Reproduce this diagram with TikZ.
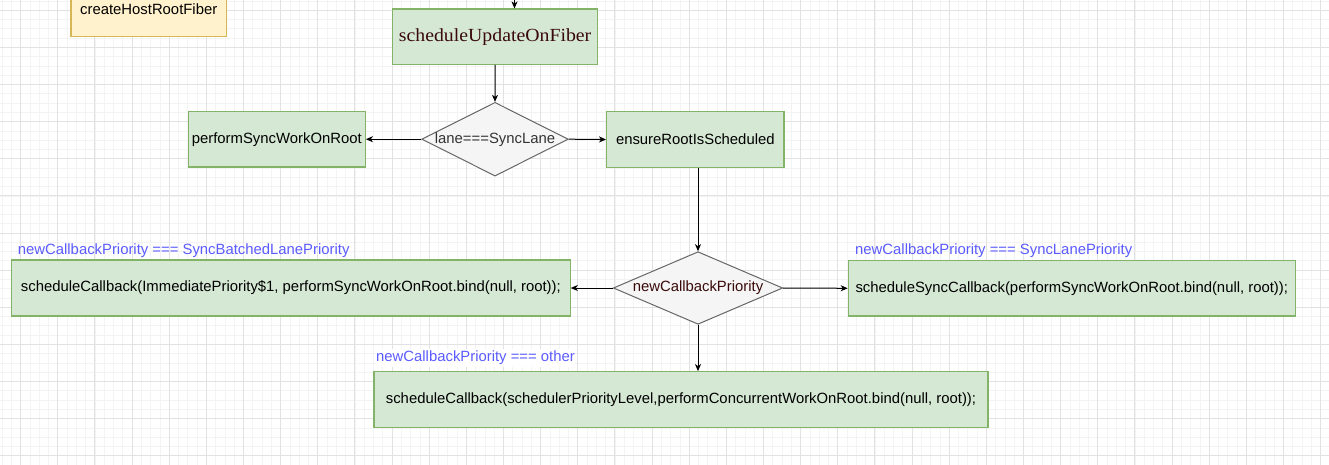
\documentclass[tikz,border=0pt]{standalone}
\usepackage{graphicx}
\usepackage{fontspec}
\setmainfont{Liberation Sans}
\newfontfamily\serifface{Liberation Serif}
\usetikzlibrary{arrows.meta,shapes.geometric}
\definecolor{gfill}{HTML}{D5E8D4}
\definecolor{gline}{HTML}{82B366}
\definecolor{yfill}{HTML}{FFF2CC}
\definecolor{yline}{HTML}{D6B656}
\definecolor{dfill}{HTML}{F5F5F5}
\definecolor{dline}{HTML}{666666}
\definecolor{maroon}{HTML}{3A0A0A}
\definecolor{dgray}{HTML}{333333}
\definecolor{lblue}{HTML}{5B5BFF}
\definecolor{gridminor}{HTML}{F3F3F3}
\definecolor{gridmajor}{HTML}{E2E2E2}
\newcommand\dfont{\fontsize{14.86pt}{17pt}\selectfont}
\tikzset{
  gbox/.style={draw=gline, fill=gfill, line width=1.2pt, inner sep=0pt, font=\dfont, text=black},
  ybox/.style={draw=yline, fill=yfill, line width=1.2pt, inner sep=0pt, font=\dfont, text=black},
  dbox/.style={diamond, draw=dline, fill=dfill, line width=1pt, inner sep=0pt, aspect=2},
  dtext/.style={font=\dfont, inner sep=0pt},
  blabel/.style={font=\dfont, text=lblue, anchor=west, inner sep=0pt},
  arr/.style={draw=black, line width=1pt, -{Stealth[length=7pt,width=6pt,inset=2pt]}},
}
\begin{document}
\begin{tikzpicture}[x=1pt,y=-1pt]
\useasboundingbox (0,0) rectangle (1329,465);
\clip (0,0) rectangle (1329,465);
\fill[white] (0,0) rectangle (1329,465);
% grid
\foreach \i in {0,...,143} \draw[gridminor, line width=0.8pt] ({2.13+\i*9.285},0) -- ({2.13+\i*9.285},465);
\foreach \j in {0,...,50} \draw[gridminor, line width=0.8pt] (0,{0.915+\j*9.285}) -- (1329,{0.915+\j*9.285});
\foreach \i in {0,...,35} \draw[gridmajor, line width=1pt] ({20.7+\i*37.14},0) -- ({20.7+\i*37.14},465);
\foreach \j in {0,...,12} \draw[gridmajor, line width=1pt] (0,{10.2+\j*37.14}) -- (1329,{10.2+\j*37.14});

% nodes
\node[ybox, minimum width=155.3pt, minimum height=55.7pt] (create) at (148.7,8.9) {createHostRootFiber};
\node[gbox, minimum width=204.8pt, minimum height=55.3pt, font=\serifface\fontsize{18.5pt}{20pt}\selectfont, text=maroon] (sched) at (495.1,36.7) {\scalebox{1.07}[1]{scheduleUpdateOnFiber}};
\node[dbox, minimum width=146.6pt, minimum height=73.7pt] (d1) at (495,139.2) {};
\node[dtext, text=dgray] (d1t) at (d1.center) {lane===SyncLane};
\node[gbox, minimum width=177pt, minimum height=55.7pt] (perf) at (276.8,139.2) {performSyncWorkOnRoot};
\node[gbox, minimum width=177.3pt, minimum height=55.6pt] (ens) at (695.3,139.5) {ensureRootIsScheduled};
\node[dbox, minimum width=169.4pt, minimum height=72.6pt] (d2) at (698,288) {};
\node[dtext, text=maroon] (d2t) at (d2.center) {newCallbackPriority};
\node[gbox, minimum width=558.5pt, minimum height=56pt] (L) at (290.9,288) {scheduleCallback(ImmediatePriority\$1, performSyncWorkOnRoot.bind(null, root));};
\node[gbox, minimum width=447pt, minimum height=55.3pt] (R) at (1071.8,288.3) {scheduleSyncCallback(performSyncWorkOnRoot.bind(null, root));};
\node[gbox, minimum width=614pt, minimum height=55.6pt] (B) at (681,399.5) {scheduleCallback(schedulerPriorityLevel,performConcurrentWorkOnRoot.bind(null, root));};

% labels
\node[blabel] (lL) at (17.7,251) {newCallbackPriority === SyncBatchedLanePriority};
\node[blabel] (lR) at (855,250.7) {newCallbackPriority === SyncLanePriority};
\node[blabel, fill=white, inner ysep=2pt] (lB) at (376,357.7) {newCallbackPriority === other};

% connectors
\coordinate (in) at (514.5,-12);
\draw[arr] (in) -- (in |- sched.north);
\draw[arr] (sched.south) -- (d1.north);
\draw[arr] (d1.west) -- (perf.east);
\draw[arr] (d1.east) -- (ens.west);
\draw[arr] (d2.north |- ens.south) -- (d2.north);
\draw[arr] (d2.west) -- (L.east);
\draw[arr] (d2.east) -- (R.west);
\draw[arr] (d2.south) -- (d2.south |- B.north);
\end{tikzpicture}
\end{document}
